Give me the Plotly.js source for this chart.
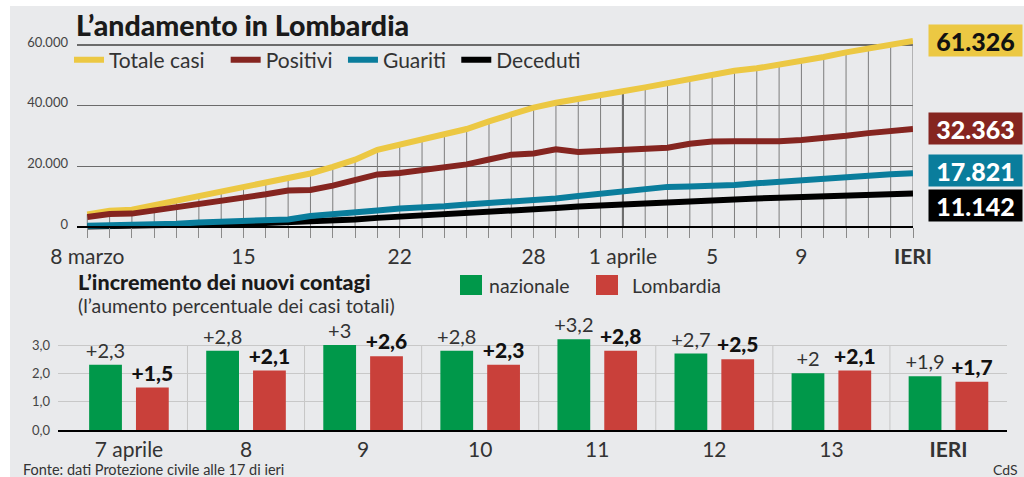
<!DOCTYPE html>
<html><head><meta charset="utf-8">
<script src="https://cdn.plot.ly/plotly-3.0.1.min.js"></script>
<style>html,body{margin:0;padding:0;background:#fff}#chart{width:1024px;height:477px}</style>
</head><body><div id="chart"></div>
<script>
// ---------- DATA ----------
const dates = ['2020-03-08','2020-03-09','2020-03-10','2020-03-11','2020-03-12','2020-03-13','2020-03-14','2020-03-15','2020-03-16','2020-03-17','2020-03-18','2020-03-19','2020-03-20','2020-03-21','2020-03-22','2020-03-23','2020-03-24','2020-03-25','2020-03-26','2020-03-27','2020-03-28','2020-03-29','2020-03-30','2020-03-31','2020-04-01','2020-04-02','2020-04-03','2020-04-04','2020-04-05','2020-04-06','2020-04-07','2020-04-08','2020-04-09','2020-04-10','2020-04-11','2020-04-12','2020-04-13','2020-04-14'];
const totaleCasi = [4189,5469,5791,7280,8725,9820,11685,13272,14649,16220,17713,19884,22264,25515,27206,28761,30703,32346,34889,37298,39415,41007,42161,43208,44773,46065,47520,49118,50455,51534,52325,53414,54802,56048,57592,58729,60314,61326];
const positivi = [3400,4400,4500,5500,6600,7500,8850,9900,10850,12100,12300,13700,15500,17400,17900,18900,19900,20700,22300,23900,24300,25700,24800,25100,25700,25800,26200,27500,28200,28300,28100,28300,28700,29300,30100,31000,31800,32363];
const guariti = [500,600,650,1000,1150,1550,1900,2200,2400,2600,3700,4200,4600,5500,6200,6400,6900,7500,8000,8300,8800,9500,10300,11100,11700,12700,13300,13450,13600,13900,14500,15000,15700,16300,16900,17200,17450,17821];
const deceduti = [267,333,468,617,744,890,966,1218,1420,1640,1959,2168,2549,3095,3456,3776,4178,4474,4861,5402,5944,6360,6818,7199,7593,7960,8311,8656,8905,9202,9484,9722,10022,10238,10511,10621,10901,11142];
const xTickDates = ['2020-03-08','2020-03-15','2020-03-22','2020-03-28','2020-04-01','2020-04-05','2020-04-09','2020-04-14'];
const xTickLabels = ['8 marzo','15','22','28','1 aprile','5','9','<b>IERI</b>'];
const yTicks = [0,20000,40000,60000];
const markerDate = '2020-04-01';

const giorni = ['7 aprile','8','9','10','11','12','13','IERI'];
const nazionale = [2.3,2.8,3,2.8,3.2,2.7,2,1.9];
const lombardia = [1.5,2.1,2.6,2.3,2.8,2.5,2.1,1.7];
const y2Ticks = [0,1,2,3];

// ---------- HELPERS ----------
const W = 1024, H = 477;
const px = x => x / W;
const py = y => 1 - y / H;
const F = 'Lato, "Open Sans", sans-serif';
const thousands = v => String(v).replace(/\B(?=(\d{3})+(?!\d))/g, '.');
const plusComma = v => '+' + String(v).replace('.', ',');
const last = a => a[a.length - 1];

const COL = {tot:'#ecc843', pos:'#852520', gua:'#0a7d9c', dec:'#000000', naz:'#00984a', lom:'#c9403a', bg:'#e9eaec'};

// ---------- TRACES ----------
const lineW = 6;
const traces = [
  {x: dates, y: totaleCasi, name: 'Totale casi   ', type: 'scatter', mode: 'lines', legendrank: 1,
   line: {color: COL.tot, width: lineW},
   error_y: {type: 'data', symmetric: false, array: totaleCasi.map(() => 0), arrayminus: totaleCasi,
             width: 0, thickness: 1, color: '#7d7d7d'}},
  {x: dates, y: positivi, name: 'Positivi ', type: 'scatter', mode: 'lines', legendrank: 2,
   line: {color: COL.pos, width: lineW}},
  {x: dates, y: deceduti, name: 'Deceduti', type: 'scatter', mode: 'lines', legendrank: 4,
   line: {color: COL.dec, width: lineW}},
  {x: dates, y: guariti, name: 'Guariti ', type: 'scatter', mode: 'lines', legendrank: 3,
   line: {color: COL.gua, width: lineW}},
  {x: giorni, y: nazionale, name: 'nazionale', type: 'bar', xaxis: 'x2', yaxis: 'y2', showlegend: false,
   marker: {color: COL.naz}, text: nazionale.map(plusComma), textposition: 'outside', constraintext: 'none',
   cliponaxis: false, textfont: {family: F, size: 20, color: '#333'}},
  {x: giorni, y: lombardia, name: 'Lombardia', type: 'bar', xaxis: 'x2', yaxis: 'y2', showlegend: false,
   marker: {color: COL.lom}, text: lombardia.map(plusComma), textposition: 'outside', constraintext: 'none',
   cliponaxis: false, textfont: {family: F, size: 21, color: '#111', weight: 900}}
];

// ---------- SHAPES ----------
const shapes = [
  {type: 'rect', xref: 'paper', yref: 'paper', x0: px(10), x1: 1, y0: 0, y1: py(6),
   fillcolor: COL.bg, line: {width: 0}, layer: 'below'},
  {type: 'line', xref: 'x', yref: 'y', x0: markerDate, x1: markerDate, y0: 0,
   y1: totaleCasi[dates.indexOf(markerDate)], line: {color: '#555', width: 2}, layer: 'below'},
  // bottom legend swatches
  {type: 'rect', xref: 'paper', yref: 'paper', x0: px(460), x1: px(482), y0: py(295), y1: py(275),
   fillcolor: COL.naz, line: {width: 0}},
  {type: 'rect', xref: 'paper', yref: 'paper', x0: px(596), x1: px(618), y0: py(295), y1: py(275),
   fillcolor: COL.lom, line: {width: 0}}
];
for (let i = 0; i < giorni.length - 1; i++) {
  shapes.push({type: 'line', xref: 'x2', yref: 'y2', x0: i + 0.5, x1: i + 0.5, y0: 0, y1: 3,
               line: {color: '#c6c6c6', width: 1}, layer: 'below'});
}

// ---------- ANNOTATIONS ----------
const endBoxes = [
  {v: last(totaleCasi), bg: COL.tot, fc: '#111', ys: 0},
  {v: last(positivi), bg: COL.pos, fc: '#fff', ys: 0},
  {v: last(guariti), bg: COL.gua, fc: '#fff', ys: 2.5},
  {v: last(deceduti), bg: COL.dec, fc: '#fff', ys: -12.5}
];
const annotations = endBoxes.map(b => ({
  xref: 'x', yref: 'y', x: last(dates), y: b.v, xanchor: 'left', yanchor: 'middle',
  xshift: 15, yshift: b.ys, text: thousands(b.v), showarrow: false,
  bgcolor: b.bg, width: 85, height: 23, borderpad: 4, align: 'center',
  font: {family: F, size: 25, color: b.fc, weight: 900}
}));
annotations.push(
  {xref: 'paper', yref: 'paper', x: px(76), y: py(281.5), xanchor: 'left', yanchor: 'middle', showarrow: false,
   text: 'L’incremento dei nuovi contagi', font: {family: F, size: 21.5, color: '#1a1a1a', weight: 900}},
  {xref: 'paper', yref: 'paper', x: px(76), y: py(305), xanchor: 'left', yanchor: 'middle', showarrow: false,
   text: '(l’aumento percentuale dei casi totali)', font: {family: F, size: 19.5, color: '#333'}},
  {xref: 'paper', yref: 'paper', x: px(487), y: py(285.5), xanchor: 'left', yanchor: 'middle', showarrow: false,
   text: 'nazionale', font: {family: F, size: 19.5, color: '#333'}},
  {xref: 'paper', yref: 'paper', x: px(630), y: py(285.5), xanchor: 'left', yanchor: 'middle', showarrow: false,
   text: 'Lombardia', font: {family: F, size: 19.5, color: '#333'}},
  {xref: 'paper', yref: 'paper', x: px(21), y: py(469), xanchor: 'left', yanchor: 'middle', showarrow: false,
   text: 'Fonte: dati Protezione civile alle 17 di ieri', font: {family: F, size: 14.5, color: '#333'}},
  {xref: 'paper', yref: 'paper', x: px(1020), y: py(469), xanchor: 'right', yanchor: 'middle', showarrow: false,
   text: 'CdS', font: {family: F, size: 14, color: '#333'}}
);

// ---------- LAYOUT ----------
const layout = {
  width: W, height: H, autosize: false,
  margin: {l: 0, r: 0, t: 0, b: 0, pad: 0},
  paper_bgcolor: '#ffffff', plot_bgcolor: 'rgba(0,0,0,0)',
  separators: ',.',
  font: {family: F, color: '#333'},
  hovermode: false,
  title: {text: 'L’andamento in Lombardia', xref: 'paper', yref: 'paper', x: px(76), xanchor: 'left',
          y: py(26), yanchor: 'middle', font: {family: F, size: 28.5, color: '#1a1a1a', weight: 900}},
  showlegend: true,
  legend: {orientation: 'h', x: px(69), xanchor: 'left', y: py(60), yanchor: 'middle',
           bgcolor: 'rgba(0,0,0,0)', font: {family: F, size: 21, color: '#333'}, traceorder: 'normal'},
  xaxis: {type: 'date', domain: [px(77), px(913)], range: ['2020-03-07 12:56', '2020-04-14 00:00'],
          anchor: 'free', position: py(227.3), showline: true, linecolor: '#000', linewidth: 2,
          ticks: 'outside', ticklen: 10, tickwidth: 1, tickcolor: '#8a8a8a',
          tickmode: 'array', tickvals: dates,
          ticktext: dates.map(d => { const k = xTickDates.indexOf(d); return k >= 0 ? xTickLabels[k] : ''; }),
          tickfont: {family: F, size: 21, color: '#333'}, showgrid: false, zeroline: false, fixedrange: true},
  yaxis: {domain: [py(236.4), py(35.9)], range: [-3000, 63000], tickmode: 'array', tickvals: yTicks,
          tickformat: ',.0f', gridcolor: '#6b6b6b', gridwidth: 1.2, zeroline: false, showline: false,
          ticks: '', ticklabelstandoff: 8, ticklabelshift: -3,
          tickfont: {family: F, size: 13, color: '#444'}, fixedrange: true},
  xaxis2: {type: 'category', domain: [px(58), px(1007)], range: [-0.606, 7.5], anchor: 'y2',
           showline: true, linecolor: '#000', linewidth: 2, ticks: '', showgrid: false, zeroline: false,
           tickmode: 'array', tickvals: giorni, ticktext: giorni.map(g => g === 'IERI' ? '<b>IERI</b>' : g),
           tickfont: {family: F, size: 21, color: '#333'}, fixedrange: true},
  yaxis2: {domain: [py(430), py(336.5)], range: [0, 3.3], anchor: 'x2', tickmode: 'array', tickvals: y2Ticks,
           tickformat: '.1f', gridcolor: '#c8c8c8', gridwidth: 1, zeroline: false, showline: false,
           ticks: '', ticklabelstandoff: 7, tickfont: {family: F, size: 13, color: '#444'}, fixedrange: true},
  bargap: 0.2, bargroupgap: 0.3, barmode: 'group',
  shapes: shapes, annotations: annotations
};

Plotly.newPlot('chart', traces, layout, {displayModeBar: false, staticPlot: true});
</script></body></html>
